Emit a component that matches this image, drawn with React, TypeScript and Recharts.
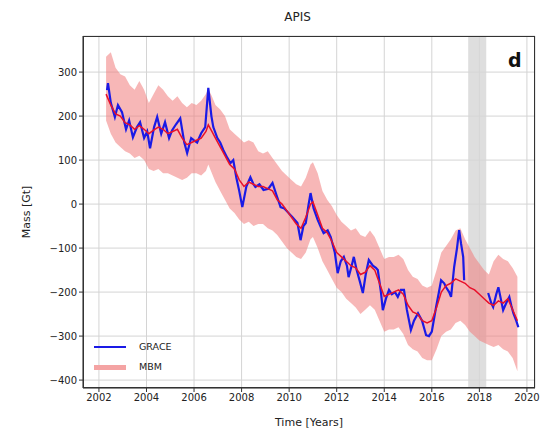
import React from 'react';
import {
  ComposedChart,
  Line,
  Area,
  XAxis,
  YAxis,
  CartesianGrid,
  ReferenceArea,
} from 'recharts';

// GRACE (2002 - mid 2017)
const graceYears1 = [
  2002.34, 2002.38, 2002.5, 2002.67, 2002.8, 2002.97, 2003.14, 2003.27, 2003.43, 2003.6,
  2003.73, 2003.9, 2004.03, 2004.15, 2004.32, 2004.45, 2004.62, 2004.78, 2004.95, 2005.08,
  2005.25, 2005.42, 2005.59, 2005.71, 2005.88, 2006.0, 2006.13, 2006.3, 2006.47, 2006.6,
  2006.73, 2006.81, 2006.98, 2007.1, 2007.23, 2007.4, 2007.53, 2007.65, 2007.78, 2007.9,
  2008.03, 2008.2, 2008.37, 2008.5, 2008.58, 2008.75, 2008.92, 2009.13, 2009.3, 2009.47,
  2009.64, 2009.8, 2009.97, 2010.14, 2010.35, 2010.48, 2010.6, 2010.7, 2010.82, 2010.9,
  2011.03, 2011.2, 2011.33, 2011.45, 2011.62, 2011.75, 2011.92, 2012.04, 2012.17, 2012.3,
  2012.43, 2012.5, 2012.63, 2012.72, 2012.84, 2012.97, 2013.1, 2013.22, 2013.35, 2013.52,
  2013.65, 2013.73, 2013.86, 2013.94, 2014.07, 2014.2, 2014.32, 2014.45, 2014.57, 2014.7,
  2014.83, 2014.95, 2015.12, 2015.25, 2015.42, 2015.59, 2015.76, 2015.88, 2016.0, 2016.18,
  2016.3, 2016.39, 2016.52, 2016.6, 2016.73, 2016.81, 2016.94, 2017.06, 2017.15, 2017.23,
  2017.32, 2017.36,
];
const graceMass1 = [
  259, 275, 230, 198, 225, 209, 170, 190, 152, 175,
  186, 150, 165, 127, 175, 198, 160, 186, 150, 168,
  182, 195, 140, 116, 150, 145, 140, 161, 175, 264,
  200, 175, 150, 140, 123, 105, 93, 100, 60, 30,
  -7, 40, 61, 45, 39, 45, 32, 35, 48, 20,
  -7, -10, -20, -30, -43, -82, -50, -43, 0, 25,
  -10, -36, -52, -66, -60, -75, -110, -157, -130, -120,
  -140, -166, -140, -120, -150, -175, -202, -160, -127, -140,
  -145, -150, -200, -241, -215, -195, -205, -200, -211, -195,
  -195, -240, -286, -265, -248, -265, -298, -300, -290, -234,
  -200, -173, -180, -189, -200, -211, -143, -100, -59, -90,
  -120, -173,
];

// GRACE-FO (from mid 2018)
const graceYears2 = [
  2018.37, 2018.5, 2018.58, 2018.71, 2018.8, 2018.92, 2019.0, 2019.13, 2019.26, 2019.34,
  2019.43, 2019.55, 2019.64,
];
const graceMass2 = [-202, -225, -234, -205, -189, -220, -241, -225, -211, -230, -248, -265, -280];

// MBM with uncertainty band
const mbmYears = [
  2002.3, 2002.5, 2002.7, 2002.9, 2003.1, 2003.3, 2003.5, 2003.7, 2003.9, 2004.1,
  2004.3, 2004.5, 2004.7, 2004.9, 2005.1, 2005.3, 2005.5, 2005.7, 2005.9, 2006.1,
  2006.3, 2006.5, 2006.6, 2006.75, 2006.9, 2007.1, 2007.3, 2007.5, 2007.7, 2007.9,
  2008.1, 2008.3, 2008.5, 2008.7, 2008.9, 2009.1, 2009.3, 2009.5, 2009.7, 2009.9,
  2010.1, 2010.3, 2010.5, 2010.7, 2010.9, 2011.0, 2011.2, 2011.4, 2011.6, 2011.8,
  2012.0, 2012.2, 2012.4, 2012.6, 2012.8, 2013.0, 2013.2, 2013.4, 2013.6, 2013.8,
  2014.0, 2014.2, 2014.4, 2014.6, 2014.8, 2015.0, 2015.2, 2015.4, 2015.6, 2015.8,
  2016.0, 2016.2, 2016.4, 2016.6, 2016.8, 2017.0, 2017.2, 2017.4, 2017.6, 2017.8,
  2018.0, 2018.2, 2018.4, 2018.6, 2018.8, 2019.0, 2019.2, 2019.4, 2019.6,
];
const mbmMass = [
  250, 225, 205, 200, 185, 180, 170, 178, 170, 160,
  168, 175, 170, 160, 165, 170, 150, 135, 140, 145,
  150, 165, 180, 165, 150, 130, 110, 90, 80, 55,
  40, 50, 45, 40, 40, 35, 30, 10, 0, -15,
  -30, -45, -55, -30, 0, 5, -25, -55, -65, -85,
  -110, -120, -130, -140, -145, -160, -155, -140, -150, -180,
  -210, -205, -200, -195, -205, -230, -245, -250, -265, -270,
  -265, -235, -200, -185, -180, -170, -175, -180, -190, -195,
  -205, -215, -225, -230, -220, -225, -215, -240, -265,
];
const mbmLow = [
  190, 160, 140, 130, 120, 115, 105, 110, 100, 80,
  75, 80, 70, 70, 65, 60, 55, 60, 70, 70,
  65, 75, 90, 70, 50, 30, 10, -10, -20, -35,
  -45, -40, -50, -45, -45, -55, -60, -70, -85, -100,
  -110, -120, -125, -110, -80, -75, -100, -130, -150, -170,
  -190, -200, -215, -225, -235, -250, -240, -230, -240, -265,
  -290, -285, -285, -280, -295, -320, -330, -335, -350, -355,
  -355, -330, -300, -290, -285, -270, -265, -275, -290, -300,
  -310, -315, -320, -325, -320, -330, -335, -350, -380,
];
const mbmHigh = [
  335, 345, 310, 295, 290, 270, 260, 280, 260, 230,
  250, 270, 260, 245, 235, 245, 230, 220, 230, 225,
  235, 250, 262, 245, 225, 215, 200, 170, 160, 150,
  140, 145, 140, 120, 115, 120, 105, 90, 75, 65,
  55, 45, 40, 60, 90, 95, 70, 30, 10, -5,
  -25, -40, -50, -60, -55, -70, -75, -60, -75, -100,
  -125, -120, -120, -115, -125, -150, -165, -170, -185, -190,
  -185, -150, -110, -95, -80, -60, -55, -80, -100, -120,
  -135, -150, -160, -130, -115, -125, -130, -145, -165,
];

const xTicks = [2002, 2004, 2006, 2008, 2010, 2012, 2014, 2016, 2018, 2020];
const yTicks = [-400, -300, -200, -100, 0, 100, 200, 300];
const gapStart = 2017.53;
const gapEnd = 2018.29;

const grace1 = graceYears1.map((year, i) => ({ year, mass: graceMass1[i] }));
const grace2 = graceYears2.map((year, i) => ({ year, mass: graceMass2[i] }));
const mbm = mbmYears.map((year, i) => ({
  year,
  mass: mbmMass[i],
  band: [mbmLow[i], mbmHigh[i]],
}));

const FONT = '"DejaVu Sans", sans-serif';
const tickStyle = { fill: '#222', fontSize: 10, fontFamily: FONT };
const minus = (v: number) => String(v).replace('-', '\u2212');

export default function App() {
  return (
    <div style={{ position: 'absolute', left: 0, top: 0, width: 545, height: 436, background: '#fff', fontFamily: FONT }}>
      <div style={{ position: 'absolute', left: 0, width: 545, top: 10, textAlign: 'center', fontSize: 12, color: '#222', paddingLeft: 50, boxSizing: 'border-box' }}>
        APIS
      </div>
      <ComposedChart width={545} height={436} margin={{ top: 36, right: 10, bottom: 18, left: 0 }}>
        <CartesianGrid stroke="#d4d4d4" strokeWidth={1} />
        <ReferenceArea x1={gapStart} x2={gapEnd} fill="#d6d6d6" fillOpacity={0.8} stroke="none" ifOverflow="hidden" />
        <XAxis
          dataKey="year"
          type="number"
          domain={[2001.33, 2020.34]}
          allowDataOverflow
          ticks={xTicks}
          tick={tickStyle}
          tickSize={4}
          tickMargin={2}
          height={30}
          stroke="#333"
          label={{ value: 'Time [Years]', position: 'insideBottom', offset: -8, style: { fill: '#222', fontSize: 11, fontFamily: FONT } }}
        />
        <YAxis
          type="number"
          domain={[-418, 382]}
          allowDataOverflow
          ticks={yTicks}
          tickFormatter={minus}
          tick={tickStyle}
          tickSize={4}
          tickMargin={2}
          width={83}
          stroke="#333"
          label={{ value: 'Mass [Gt]', angle: -90, position: 'insideLeft', offset: 26, style: { fill: '#222', fontSize: 11, fontFamily: FONT, textAnchor: 'middle' } }}
        />
        <Area
          data={mbm}
          dataKey="band"
          type="linear"
          stroke="none"
          fill="#f07c7c"
          fillOpacity={0.55}
          isAnimationActive={false}
        />
        <Line data={grace1} dataKey="mass" type="linear" stroke="#1a1ae6" strokeWidth={2.2} dot={false} isAnimationActive={false} />
        <Line data={grace2} dataKey="mass" type="linear" stroke="#1a1ae6" strokeWidth={2.2} dot={false} isAnimationActive={false} />
        <Line data={mbm} dataKey="mass" type="linear" stroke="#e8102a" strokeWidth={1.5} dot={false} isAnimationActive={false} />
      </ComposedChart>
      <div style={{ position: 'absolute', left: 83, top: 36, width: 452, height: 352, border: '1px solid #333', boxSizing: 'border-box', pointerEvents: 'none' }} />
      <div style={{ position: 'absolute', left: 508, top: 50, fontSize: 19, fontWeight: 'bold', color: '#111', lineHeight: '20px' }}>d</div>
      <div style={{ position: 'absolute', left: 94, top: 337, fontSize: 9.5, color: '#222', lineHeight: '20px' }}>
        <div style={{ display: 'flex', alignItems: 'center' }}>
          <span style={{ display: 'inline-block', width: 32, height: 2, background: '#1a1ae6', marginRight: 13 }} />
          GRACE
        </div>
        <div style={{ display: 'flex', alignItems: 'center' }}>
          <span style={{ display: 'inline-block', width: 32, height: 5, background: '#f4a3a3', marginRight: 13 }} />
          MBM
        </div>
      </div>
    </div>
  );
}
